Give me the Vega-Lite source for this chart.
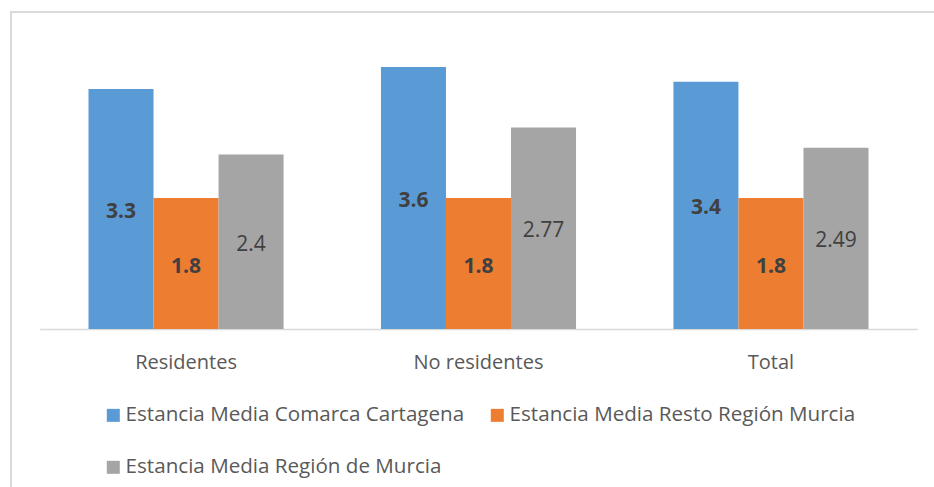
{
  "$schema": "https://vega.github.io/schema/vega-lite/v6.json",
  "width": 924,
  "height": 476,
  "autosize": "none",
  "padding": {"left": 11, "top": 12, "right": 0, "bottom": 0},
  "background": "white",
  "config": {"view": {"stroke": "#D9D9D9", "strokeWidth": 2}, "font": "Open Sans"},
  "data": {"values": [
    {"grupo": "Residentes", "serie": "Estancia Media Comarca Cartagena", "valor": 3.3},
    {"grupo": "Residentes", "serie": "Estancia Media Resto Región Murcia", "valor": 1.8},
    {"grupo": "Residentes", "serie": "Estancia Media Región de Murcia", "valor": 2.4},
    {"grupo": "No residentes", "serie": "Estancia Media Comarca Cartagena", "valor": 3.6},
    {"grupo": "No residentes", "serie": "Estancia Media Resto Región Murcia", "valor": 1.8},
    {"grupo": "No residentes", "serie": "Estancia Media Región de Murcia", "valor": 2.77},
    {"grupo": "Total", "serie": "Estancia Media Comarca Cartagena", "valor": 3.4},
    {"grupo": "Total", "serie": "Estancia Media Resto Región Murcia", "valor": 1.8},
    {"grupo": "Total", "serie": "Estancia Media Región de Murcia", "valor": 2.49}
  ]},
  "encoding": {
    "x": {
      "field": "grupo", "type": "nominal",
      "sort": ["Residentes", "No residentes", "Total"],
      "scale": {"range": [28.75, 906.25], "paddingInner": 0.333, "paddingOuter": 0.1667},
      "axis": {
        "title": null, "orient": "bottom", "offset": -159, "labelAngle": 0,
        "ticks": false, "labelPadding": 23, "labelFontSize": 20, "labelColor": "#595959",
        "labelFont": "Open Sans", "domainColor": "#D9D9D9", "domainWidth": 1.5
      }
    },
    "xOffset": {
      "field": "serie", "type": "nominal",
      "sort": ["Estancia Media Comarca Cartagena", "Estancia Media Resto Región Murcia", "Estancia Media Región de Murcia"],
      "scale": {"paddingInner": 0, "paddingOuter": 0}
    }
  },
  "layer": [
    {
      "mark": {"type": "bar"},
      "encoding": {
        "y": {"field": "valor", "type": "quantitative", "scale": {"domain": [0, 4], "range": [317, 26]}, "axis": null},
        "color": {
          "field": "serie", "type": "nominal",
          "sort": ["Estancia Media Comarca Cartagena", "Estancia Media Resto Región Murcia", "Estancia Media Región de Murcia"],
          "scale": {
            "domain": ["Estancia Media Comarca Cartagena", "Estancia Media Resto Región Murcia", "Estancia Media Región de Murcia"],
            "range": ["#5B9BD5", "#ED7D31", "#A5A5A5"]
          },
          "legend": {
            "orient": "none", "legendX": 92, "legendY": 393, "columns": 2, "direction": "horizontal", "title": null,
            "symbolType": "square", "symbolSize": 169, "symbolStrokeWidth": 0,
            "labelFont": "Open Sans", "labelFontSize": 20.6, "labelColor": "#595959",
            "labelOffset": 2, "columnPadding": 22, "rowPadding": 31, "padding": 0, "labelLimit": 0
          }
        }
      }
    },
    {
      "transform": [{"filter": "datum.serie != 'Estancia Media Región de Murcia'"}],
      "mark": {"type": "text", "fontWeight": "bold", "fontSize": 21, "color": "#404040", "baseline": "middle", "align": "center", "dy": 3},
      "encoding": {
        "y": {"field": "valor", "type": "quantitative", "scale": {"domain": [0, 8], "range": [317, 26]}, "axis": null},
        "text": {"field": "valor", "type": "quantitative"}
      }
    },
    {
      "transform": [{"filter": "datum.serie == 'Estancia Media Región de Murcia'"}],
      "mark": {"type": "text", "fontWeight": "normal", "fontSize": 21, "color": "#404040", "baseline": "middle", "align": "center", "dy": 3},
      "encoding": {
        "y": {"field": "valor", "type": "quantitative", "scale": {"domain": [0, 8], "range": [317, 26]}, "axis": null},
        "text": {"field": "valor", "type": "quantitative"}
      }
    }
  ],
  "resolve": {"scale": {"y": "independent"}}
}
